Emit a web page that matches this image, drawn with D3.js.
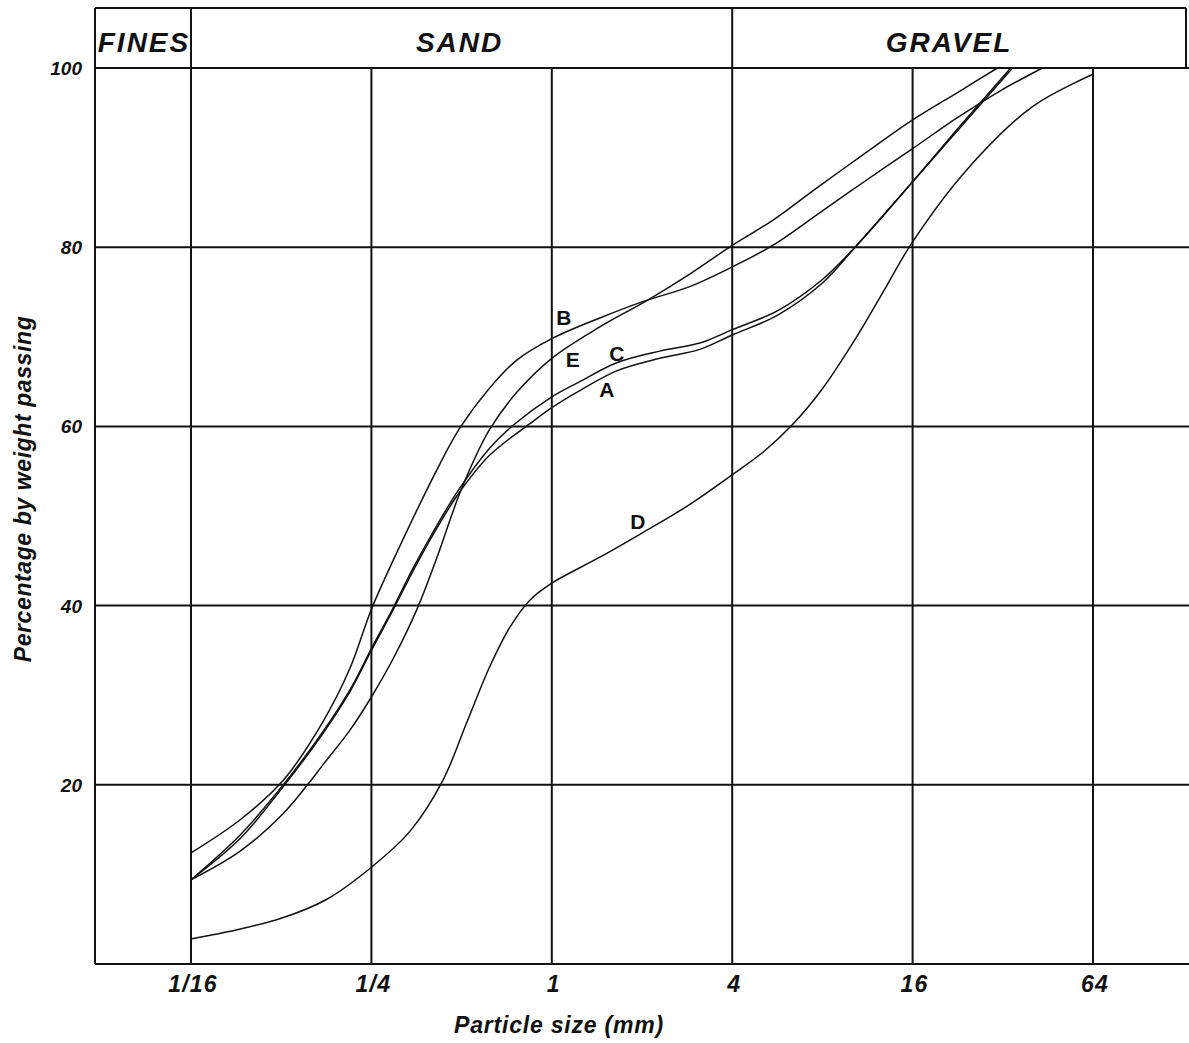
<!DOCTYPE html>
<html>
<head>
<meta charset="utf-8">
<script src="https://cdn.jsdelivr.net/npm/d3@7"></script>
<style>
  html, body { margin: 0; padding: 0; background: #fff; }
  svg { display: block; }
  text { font-family: "Liberation Sans", Arial, Helvetica, sans-serif; fill: #111; }
</style>
</head>
<body>
<svg id="chart" width="1189" height="1043"></svg>
<script>
// Grading curves: particle size (mm) against cumulative percentage passing
const xTicks = [1/16, 1/4, 1, 4, 16, 64];
const xTickLabels = ["1/16", "1/4", "1", "4", "16", "64"];
const yTicks = [20, 40, 60, 80, 100];
const zones = ["FINES", "SAND", "GRAVEL"];
const zoneBounds = [[null, 1/16], [1/16, 4], [4, null]];

const sizeA = [0.0625, 0.0912, 0.127, 0.172, 0.212, 0.25, 0.293, 0.341, 0.392, 0.486, 0.621, 0.845, 1, 1.24, 1.647, 2.293, 3.117, 4, 5.657, 8, 10.41, 16, 23, 34.5];
const passA = [9.4, 14.0, 19.8, 25.7, 30.4, 35.0, 39.3, 43.6, 47.3, 52.4, 56.8, 60.3, 62.1, 64.0, 66.2, 67.6, 68.6, 70.2, 72.4, 76.0, 80.2, 87.3, 93.3, 100];

const sizeC = [0.0625, 0.0912, 0.127, 0.172, 0.212, 0.25, 0.293, 0.341, 0.392, 0.486, 0.621, 0.741, 1, 1.24, 1.647, 2.293, 3.117, 4, 5.657, 8, 10.41, 16, 23, 34];
const passC = [9.4, 14.4, 20.0, 25.9, 30.6, 35.2, 39.5, 43.9, 47.6, 52.8, 57.6, 60.1, 63.3, 65.0, 67.1, 68.4, 69.3, 70.8, 72.9, 76.4, 80.2, 87.3, 93.5, 100];

const sizeB = [0.0625, 0.0912, 0.127, 0.172, 0.212, 0.25, 0.296, 0.423, 0.493, 0.621, 0.764, 1, 1.446, 2, 2.886, 4, 5.46, 7.96, 11.24, 16, 22.44, 31.2, 43.4];
const passB = [12.4, 16.1, 20.5, 27.0, 33.0, 39.6, 45.1, 55.8, 59.8, 64.3, 67.4, 69.8, 72.1, 73.9, 75.6, 77.8, 80.2, 84.0, 87.5, 91.0, 94.4, 97.4, 100];

const sizeE = [0.0625, 0.0912, 0.127, 0.153, 0.172, 0.212, 0.25, 0.299, 0.357, 0.414, 0.486, 0.549, 0.621, 0.764, 1, 1.446, 2.09, 2.886, 4, 5.46, 7.65, 11.24, 16, 22.96, 30.7];
const passE = [9.4, 12.6, 16.8, 20.0, 22.2, 26.1, 29.8, 34.4, 39.8, 45.4, 52.0, 56.2, 59.7, 63.8, 67.6, 71.1, 74.1, 77.0, 80.2, 83.0, 86.6, 90.6, 94.2, 97.4, 100];

const sizeD = [0.0625, 0.0884, 0.125, 0.177, 0.25, 0.336, 0.433, 0.521, 0.621, 0.725, 0.845, 1, 1.446, 2, 2.83, 4, 5.1, 6.36, 8, 10.41, 12.71, 16, 24.2, 40.2, 64];
const passD = [2.8, 3.8, 5.1, 7.2, 10.8, 14.8, 20.5, 27.0, 33.2, 37.6, 40.6, 42.5, 45.4, 48.1, 51.1, 54.6, 57.2, 60.2, 64.2, 70.0, 74.9, 80.6, 88.6, 95.7, 99.3];

// Curve labels: series name with the size and percentage it sits beside
const labelNames = ["B", "E", "C", "A", "D"];
const labelSizes = [1.097, 1.175, 1.647, 1.525, 1.937];
const labelPass = [72.2, 67.5, 68.1, 64.1, 49.4];

const series = [
  { name: "A", sizes: sizeA, pass: passA },
  { name: "B", sizes: sizeB, pass: passB },
  { name: "C", sizes: sizeC, pass: passC },
  { name: "D", sizes: sizeD, pass: passD },
  { name: "E", sizes: sizeE, pass: passE }
];

const svg = d3.select("#chart");
const ink = "#111";

const frameLeft = 95, frameRight = 1189, headerRight = 1186, frameTop = 8;
const x = d3.scaleLog().base(2).domain([1/16, 64]).range([191, 1093]);
const y = d3.scaleLinear().domain([0, 100]).range([964, 68]);

// Horizontal rules at each percentage step, plus the base line
svg.append("g").selectAll("line")
  .data([0].concat(yTicks))
  .join("line")
  .attr("x1", frameLeft).attr("x2", frameRight)
  .attr("y1", d => y(d)).attr("y2", d => y(d))
  .attr("stroke", ink).attr("stroke-width", 2);

// Header box top edge, left edge and right edge
svg.append("line").attr("x1", frameLeft).attr("x2", headerRight)
  .attr("y1", frameTop).attr("y2", frameTop).attr("stroke", ink).attr("stroke-width", 2);
svg.append("line").attr("x1", frameLeft).attr("x2", frameLeft)
  .attr("y1", frameTop).attr("y2", y(0)).attr("stroke", ink).attr("stroke-width", 2);
svg.append("line").attr("x1", headerRight).attr("x2", headerRight)
  .attr("y1", frameTop).attr("y2", y(100)).attr("stroke", ink).attr("stroke-width", 2);

// Vertical rules at each size tick; zone boundaries run up through the header
const zoneEdges = [1/16, 4];
svg.append("g").selectAll("line")
  .data(xTicks)
  .join("line")
  .attr("x1", d => x(d)).attr("x2", d => x(d))
  .attr("y1", d => zoneEdges.includes(d) ? frameTop : y(100))
  .attr("y2", y(0))
  .attr("stroke", ink).attr("stroke-width", 2);

// Zone names in the header band
const zoneCenter = (b) => {
  const l = b[0] === null ? frameLeft : x(b[0]);
  const r = b[1] === null ? headerRight : x(b[1]);
  return (l + r) / 2;
};
const zoneNudge = [1, -2, -10];
svg.append("g").selectAll("text")
  .data(zones)
  .join("text")
  .attr("x", (d, i) => zoneCenter(zoneBounds[i]) + zoneNudge[i])
  .attr("y", 52)
  .attr("text-anchor", "middle")
  .attr("font-size", 28)
  .attr("font-weight", "bold")
  .attr("font-style", "italic")
  .attr("letter-spacing", 2)
  .text(d => d);

// Y tick labels
svg.append("g").selectAll("text")
  .data(yTicks)
  .join("text")
  .attr("x", 82)
  .attr("y", d => y(d) + 7)
  .attr("text-anchor", "end")
  .attr("font-size", 19)
  .attr("font-weight", "bold")
  .attr("font-style", "italic")
  .text(d => d);

// X tick labels
svg.append("g").selectAll("text")
  .data(xTicks)
  .join("text")
  .attr("x", d => x(d) + 2)
  .attr("y", 992)
  .attr("text-anchor", "middle")
  .attr("font-size", 23)
  .attr("font-weight", "bold")
  .attr("font-style", "italic")
  .attr("letter-spacing", 1.2)
  .text((d, i) => xTickLabels[i]);

// Axis titles
svg.append("text")
  .attr("x", 559).attr("y", 1033)
  .attr("text-anchor", "middle")
  .attr("font-size", 23)
  .attr("font-weight", "bold")
  .attr("font-style", "italic")
  .attr("letter-spacing", 0.8)
  .text("Particle size (mm)");

svg.append("text")
  .attr("transform", "translate(31,489) rotate(-90)")
  .attr("text-anchor", "middle")
  .attr("font-size", 23)
  .attr("font-weight", "bold")
  .attr("font-style", "italic")
  .attr("letter-spacing", 0.6)
  .text("Percentage by weight passing");

// Grading curves
const line = d3.line()
  .x(d => x(d[0]))
  .y(d => y(d[1]))
  .curve(d3.curveCatmullRom.alpha(0.5));

svg.append("g").selectAll("path")
  .data(series)
  .join("path")
  .attr("d", s => line(s.sizes.map((v, i) => [v, s.pass[i]])))
  .attr("fill", "none")
  .attr("stroke", ink)
  .attr("stroke-width", 1.5);

// Curve labels
svg.append("g").selectAll("text")
  .data(labelNames)
  .join("text")
  .attr("x", (d, i) => x(labelSizes[i]))
  .attr("y", (d, i) => y(labelPass[i]) + 7.5)
  .attr("text-anchor", "middle")
  .attr("font-size", 21)
  .attr("font-weight", "bold")
  .text(d => d);
</script>
</body>
</html>
